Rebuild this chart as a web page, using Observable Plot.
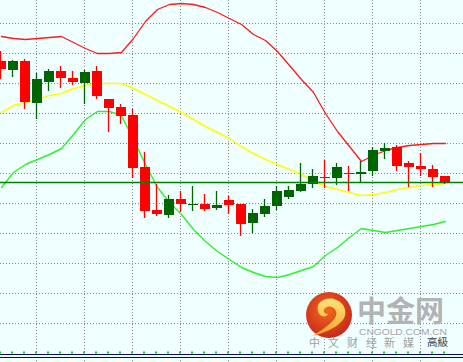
<!DOCTYPE html>
<html><head><meta charset="utf-8">
<script src="https://cdn.jsdelivr.net/npm/d3@7"></script>
<script src="https://cdn.jsdelivr.net/npm/@observablehq/plot@0.6"></script>
<style>
html,body{margin:0;padding:0;background:#f0ffff;}
#chart{position:relative;width:463px;height:362px;overflow:hidden;}
</style></head><body><div id="chart"></div>
<script>
// Candles (price units), one per bar
const opens  = [339,330,339,297,318,329,322,317,329,301,293,285,233,190,185,201,195,196,192,200,196,177,186,194,203,209,216,223,222,227,226,229,249,253,237,234,231,224];
const highs  = [349,340,341,327,331,334,329,330,334,301,296,291,248,216,205,209,214,206,209,204,196,191,201,214,214,237,231,240,237,234,239,253,257,255,239,247,235,224];
const lows   = [321,323,291,281,309,312,315,296,301,268,276,222,182,184,182,188,189,189,190,186,164,167,183,190,201,208,212,212,215,209,218,224,241,229,213,224,213,216];
const closes = [331,339,298,321,329,322,318,328,304,292,284,232,189,186,201,196,196,191,195,195,176,187,194,209,210,216,224,222,233,226,228,250,252,234,233,231,223,218];
// Bollinger bands
const upperBand  = [364,362,361,362,363,364,358,352,347,347,348,362,379,391,396,397,396,393,388,382,376,366,360,349,335,321,308,287,269,254,239,245,250,253,255,256,257,257];
const middleBand = [288,295,298,301,305,307,312,315,317,317,317,312,306,300,294,288,281,274,268,262,254,247,241,236,231,226,219,214,211,208,205,206,208,211,213,215,216,217];
const lowerBand  = [213,228,236,241,246,252,266,281,289,289,285,261,236,213,198,186,171,159,149,141,133,128,124,123,126,130,134,145,153,163,172,170,168,170,172,174,176,179];
const levelLine = [218];
const gridPrices = [377,347,317,287,257,227,197,167,137,107,77];
const gridBars = [3,7,11,15,19,23,27,31,35];
const baseLines = [46,43];

const UP = "#006400", DOWN = "#ff0000";
const candles = opens.map((o, i) => ({i, open: o, high: highs[i], low: lows[i], close: closes[i], col: closes[i] >= o ? UP : DOWN}));
const band = arr => arr.map((v, i) => ({i, v}));
const bars = opens.map((_, i) => i);

const plot = Plot.plot({
  width: 463, height: 362,
  marginTop: 0, marginRight: 0, marginBottom: 0, marginLeft: 0,
  style: {background: "#f0ffff", overflow: "hidden"},
  x: {type: "linear", domain: [-1/12, 38.5], range: [0, 463], axis: null},
  y: {type: "linear", domain: [38, 400], range: [362, 0], axis: null},
  color: {type: "identity"},
  marks: [
    Plot.ruleY(gridPrices, {stroke: "#8a8a8a", strokeDasharray: "1,2"}),
    Plot.ruleX(gridBars, {stroke: "#8a8a8a", strokeDasharray: "1,2", dx: -1}),
    Plot.line(band(upperBand), {x: "i", y: "v", stroke: "#ff1a1a", strokeWidth: 1.3}),
    Plot.line(band(middleBand), {x: "i", y: "v", stroke: "#ffff00", strokeWidth: 1.5}),
    Plot.line(band(lowerBand), {x: "i", y: "v", stroke: "#2ef02e", strokeWidth: 1.4}),
    Plot.ruleX(candles, {x: "i", y1: "low", y2: "high", stroke: "col", strokeWidth: 1.3, dx: -1}),
    Plot.ruleX(candles, {x: "i", y1: "open", y2: "close", stroke: "col", strokeWidth: 10, dx: -0.5}),
    Plot.ruleY(levelLine, {stroke: "#008000", strokeWidth: 1.6}),
    Plot.ruleX(bars, {x: d => d, y1: 46.5, y2: 48.5, stroke: "#00e000", strokeWidth: 2, dx: -1.5}),
    Plot.ruleY(baseLines, {stroke: "#0a0a60", strokeWidth: 1.2})
  ]
});

document.getElementById("chart").appendChild(plot);

// Watermark logo
const svg = d3.select(plot);
const defs = svg.append("defs");
const rg = defs.append("radialGradient").attr("id", "lg").attr("cx", "45%").attr("cy", "40%").attr("r", "60%");
rg.append("stop").attr("offset", "0%").attr("stop-color", "#f26a1c");
rg.append("stop").attr("offset", "100%").attr("stop-color", "#c9291b");
const yg = defs.append("linearGradient").attr("id", "yg").attr("x1", "0").attr("y1", "0").attr("x2", "0").attr("y2", "1");
yg.append("stop").attr("offset", "0%").attr("stop-color", "#ffe27a");
yg.append("stop").attr("offset", "100%").attr("stop-color", "#f4a526");
const wm = svg.append("g").attr("text-anchor", "start");
wm.append("circle").attr("cx", 329).attr("cy", 315).attr("r", 23).attr("fill", "url(#lg)");
wm.append("path")
  .attr("d", "M318 311 C315 301 329 296 336 300 C346 303 348 315 342 321 C336 328 324 333 312 336 C322 330 332 324 336 316 C338 310 332 305 327 307 C322 309 323 314 328 314 C326 318 319 317 318 311 Z")
  .attr("fill", "url(#yg)");
wm.append("text").text("中金网")
  .attr("x", 357).attr("y", 322).attr("text-anchor", "start")
  .attr("font-family", "'Noto Sans CJK SC', sans-serif").attr("font-weight", "bold")
  .attr("font-size", 29).attr("fill", "#b3b3b3");
wm.append("text").text("CNGOLD.COM.CN")
  .attr("x", 359).attr("y", 334.5).attr("textLength", 88).attr("lengthAdjust", "spacingAndGlyphs")
  .attr("text-anchor", "start")
  .attr("font-family", "'Liberation Sans', Arial, sans-serif")
  .attr("font-size", 9.5).attr("fill", "#a6a6a6");
wm.append("text").text("中文财经新媒")
  .attr("x", "309 328 347 366 384 403").attr("y", 346.5).attr("text-anchor", "start")
  .attr("font-family", "'Noto Sans CJK SC', sans-serif")
  .attr("font-size", 11).attr("fill", "#a0a0a0");
wm.append("text").text("高級")
  .attr("x", 427).attr("y", 345.5).attr("text-anchor", "start")
  .attr("font-family", "'Noto Sans CJK SC', sans-serif")
  .attr("font-size", 10.5).attr("fill", "#404040");
</script>
</body></html>
